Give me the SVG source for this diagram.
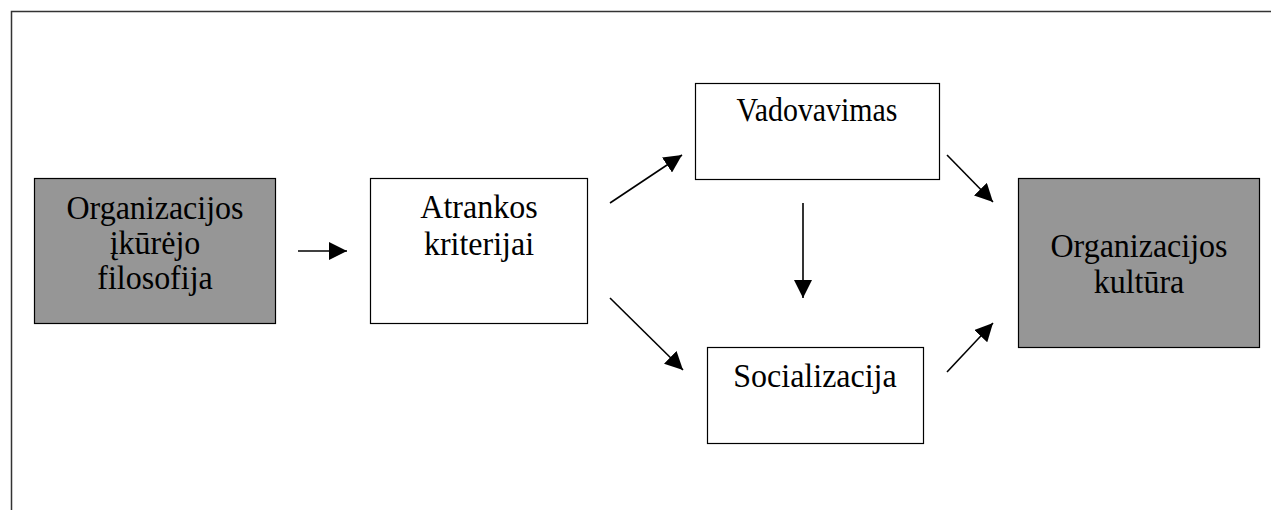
<svg xmlns="http://www.w3.org/2000/svg" width="1271" height="510" viewBox="0 0 1271 510">
<style>
.box{stroke:#000;stroke-width:1.2}
.grey{fill:#969696}
.white{fill:#fff}
.t{font-family:"Liberation Serif","Times New Roman",serif;font-size:32px;fill:#000;text-anchor:middle}
.c{stroke:#000;stroke-width:1.6;fill:none;marker-end:url(#ah)}
</style>
<defs>
<marker id="ah" markerUnits="userSpaceOnUse" markerWidth="18" markerHeight="18" viewBox="0 0 16 16" refX="16" refY="8" orient="auto">
<path d="M0,0 L16,8 L0,16 Z" fill="#000"/>
</marker>
</defs>
<rect width="1271" height="510" fill="#fff"/>
<path d="M11.5,510 V11.5 H1271" fill="none" stroke="#333" stroke-width="1.5"/>
<g id="n-founder">
<rect class="box grey" x="34.5" y="178.5" width="241" height="145"/>
<text class="t" transform="translate(155,219) scale(1,1.05)">Organizacijos</text>
<text class="t" transform="translate(155,254) scale(1,1.05)">įkūrėjo</text>
<text class="t" transform="translate(155,289) scale(1,1.05)">filosofija</text>
</g>
<g id="n-atrankos">
<rect class="box white" x="370.5" y="178.5" width="217" height="145"/>
<text class="t" transform="translate(479,218) scale(1,1.05)">Atrankos</text>
<text class="t" transform="translate(479,255) scale(1,1.05)">kriterijai</text>
</g>
<g id="n-vadovavimas">
<rect class="box white" x="695.5" y="83.5" width="244" height="96"/>
<text class="t" transform="translate(817,121) scale(1,1.05)" textLength="161" lengthAdjust="spacingAndGlyphs">Vadovavimas</text>
</g>
<g id="n-socializacija">
<rect class="box white" x="707.5" y="347.5" width="216" height="96"/>
<text class="t" transform="translate(815,387) scale(1,1.05)">Socializacija</text>
</g>
<g id="n-kultura">
<rect class="box grey" x="1018.5" y="178.5" width="241" height="169"/>
<text class="t" transform="translate(1139,257) scale(1,1.05)">Organizacijos</text>
<text class="t" transform="translate(1139,293) scale(1,1.05)">kultūra</text>
</g>
<g id="connectors">
<line class="c" x1="298" y1="251" x2="347" y2="251"/>
<line class="c" x1="610" y1="203" x2="682" y2="155"/>
<line class="c" x1="610" y1="298" x2="683" y2="370"/>
<line class="c" x1="803" y1="203" x2="803" y2="298"/>
<line class="c" x1="947" y1="155" x2="993" y2="202"/>
<line class="c" x1="947" y1="372" x2="993" y2="323"/>
</g>
</svg>
